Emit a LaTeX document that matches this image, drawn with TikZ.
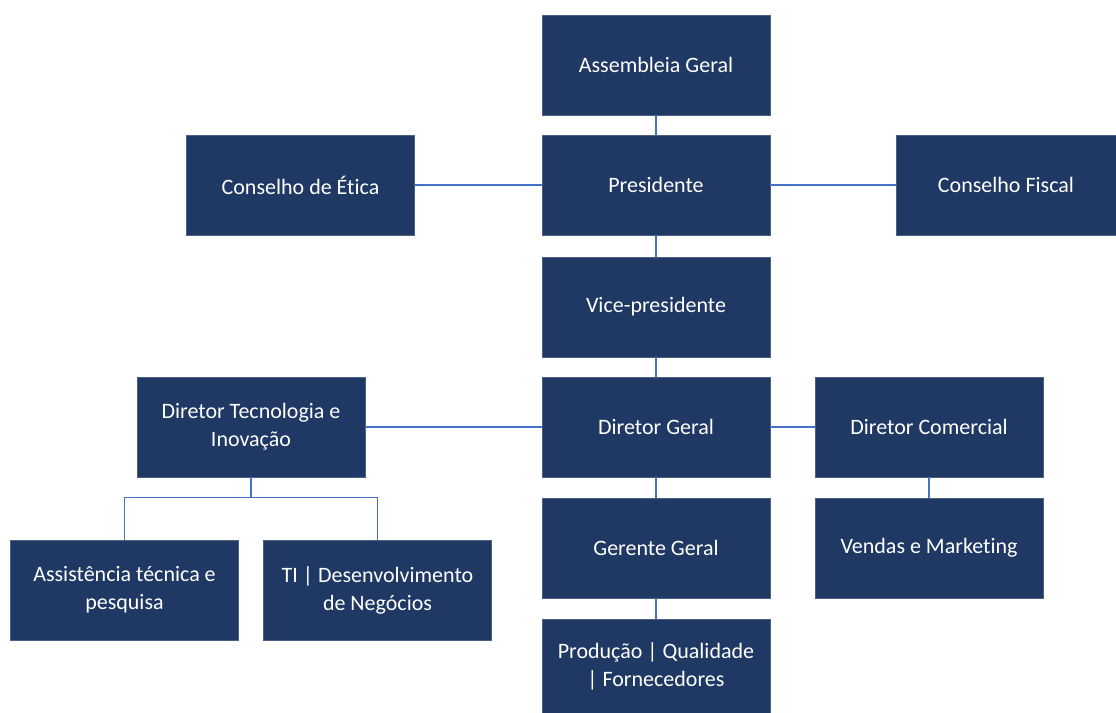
\documentclass[tikz,border=0pt]{standalone}
\usepackage{fontspec}
\setmainfont[Ligatures={NoCommon}]{Carlito}
\usepackage{tikz}
\usetikzlibrary{positioning}
\definecolor{caixa}{RGB}{31,56,100}
\definecolor{linha}{RGB}{68,114,196}
\tikzstyle{cargo}=[draw=caixa!80!white,fill=caixa,text=white,align=center,minimum width=114pt,minimum height=50pt,inner sep=2pt,font=\fontsize{11}{14}\selectfont]
\tikzstyle{liga}=[draw=linha,line width=0.75pt]

\begin{document}
\begin{tikzpicture}[x=0.5pt,y=-0.5pt]
\useasboundingbox (0,0) rectangle (1116,713);
% topo
\node [cargo] (ag) at (656,65) {Assembleia Geral};
\node [cargo] (pres) at (656,185) {Presidente};
\node [cargo] (etica) at (300.5,185) {Conselho de Ética};
\node [cargo,minimum width=110pt] (fiscal) at (1006,185) {Conselho Fiscal};
\node [cargo] (vice) at (656,307) {Vice-presidente};
% diretoria
\node [cargo] (dg) at (656,427) {Diretor Geral};
\node [cargo] (dti) at (251,427) {Diretor Tecnologia e\\Inovação};
\node [cargo] (dc) at (929,427) {Diretor Comercial};
\node [cargo] (gg) at (656,548) {Gerente Geral};
\node [cargo] (vm) at (929,548) {Vendas e Marketing};
\node [cargo] (atp) at (124.5,590) {Assistência técnica e\\pesquisa};
\node [cargo] (ti) at (377.5,590) {TI | Desenvolvimento\\de Negócios};
\node [cargo,minimum height=47pt] (prod) at (656,666) {Produção | Qualidade\\| Fornecedores};
% ligacoes
\draw [liga] (ag) -- (pres);
\draw [liga] (etica) -- (pres);
\draw [liga] (pres) -- (fiscal);
\draw [liga] (pres) -- (vice);
\draw [liga] (vice) -- (dg);
\draw [liga] (dti) -- (dg);
\draw [liga] (dg) -- (dc);
\draw [liga] (dg) -- (gg);
\draw [liga] (gg) -- (prod);
\draw [liga] (dc) -- (vm);
\draw [liga] (dti.south) -- ++(0,20) -| (atp.north);
\draw [liga] (dti.south) -- ++(0,20) -| (ti.north);
\end{tikzpicture}
\end{document}
